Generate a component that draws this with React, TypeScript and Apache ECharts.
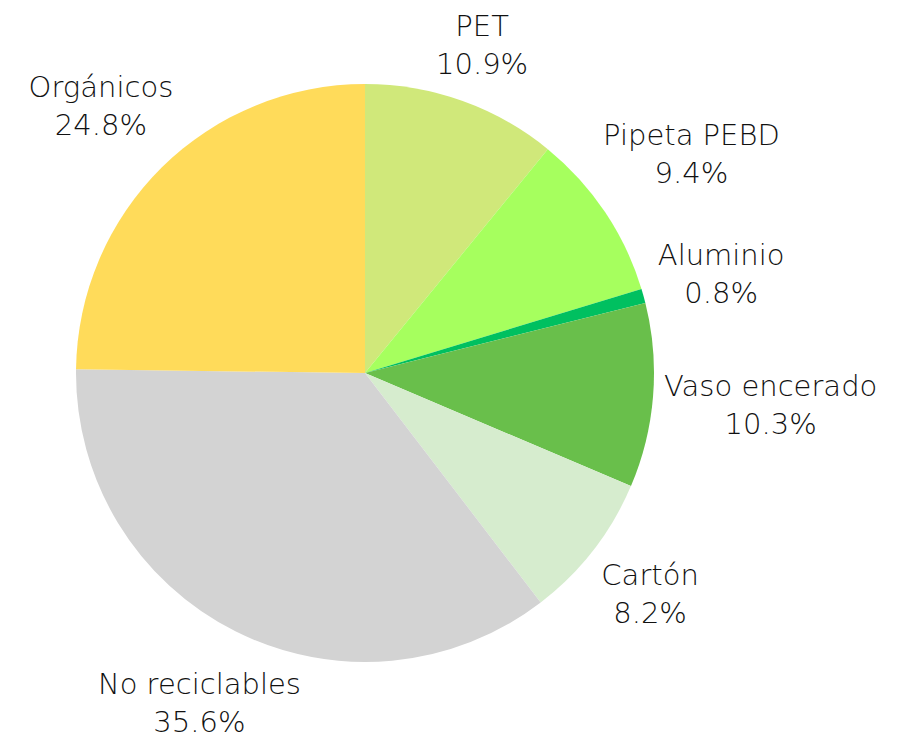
import React, { useEffect, useRef } from "react";
import * as echarts from "echarts";

const categories = ["PET", "Pipeta PEBD", "Aluminio", "Vaso encerado", "Cartón", "No reciclables", "Orgánicos"];
const values = [10.9, 9.4, 0.8, 10.3, 8.2, 35.6, 24.8];
const colors = ["#D0E87A", "#A6FF5E", "#00C060", "#69BF4B", "#D6ECCE", "#D3D3D3", "#FFDB5A"];

const CX = 365;
const CY = 373;
const R = 289;
const GAP = 10;

export default function App() {
  const ref = useRef<HTMLDivElement>(null);
  useEffect(() => {
    if (!ref.current) return;
    const chart = echarts.init(ref.current, undefined, { renderer: "svg" });
    const total = values.reduce((s, v) => s + v, 0);
    const mids: number[] = [];
    let acc = 0;
    values.forEach((v) => {
      mids.push(((acc + v / 2) / total) * Math.PI * 2);
      acc += v;
    });
    const layout = (params: any) => {
      const th = mids[params.dataIndex];
      const ux = Math.sin(th);
      const uy = -Math.cos(th);
      const a = params.labelRect.width / 2;
      const b = params.labelRect.height / 2;
      const D = R + GAP;
      let lo = 0;
      let hi = 2000;
      for (let i = 0; i < 60; i++) {
        const t = (lo + hi) / 2;
        const dx = Math.max(0, Math.abs(t * ux) - a);
        const dy = Math.max(0, Math.abs(t * uy) - b);
        if (Math.sqrt(dx * dx + dy * dy) < D) lo = t;
        else hi = t;
      }
      return { x: CX + lo * ux, y: CY + lo * uy, align: "center", verticalAlign: "middle" };
    };
    chart.setOption({
      animation: false,
      backgroundColor: "#ffffff",
      series: [
        {
          type: "pie",
          center: [CX, CY],
          radius: R,
          startAngle: 90,
          clockwise: true,
          avoidLabelOverlap: false,
          data: categories.map((c, i) => ({ name: c, value: values[i], itemStyle: { color: colors[i] } })),
          label: {
            show: true,
            position: "outside",
            formatter: "{b}\n{c}%",
            fontFamily: "DejaVu Sans",
            fontWeight: 300,
            fontSize: 29,
            lineHeight: 38,
            color: "#111111",
            align: "center",
          },
          labelLine: { show: false },
          labelLayout: layout,
          emphasis: { disabled: true },
        },
      ],
    });
    return () => chart.dispose();
  }, []);
  return <div ref={ref} style={{ position: "fixed", left: 0, top: 0, width: 908, height: 738 }} />;
}
